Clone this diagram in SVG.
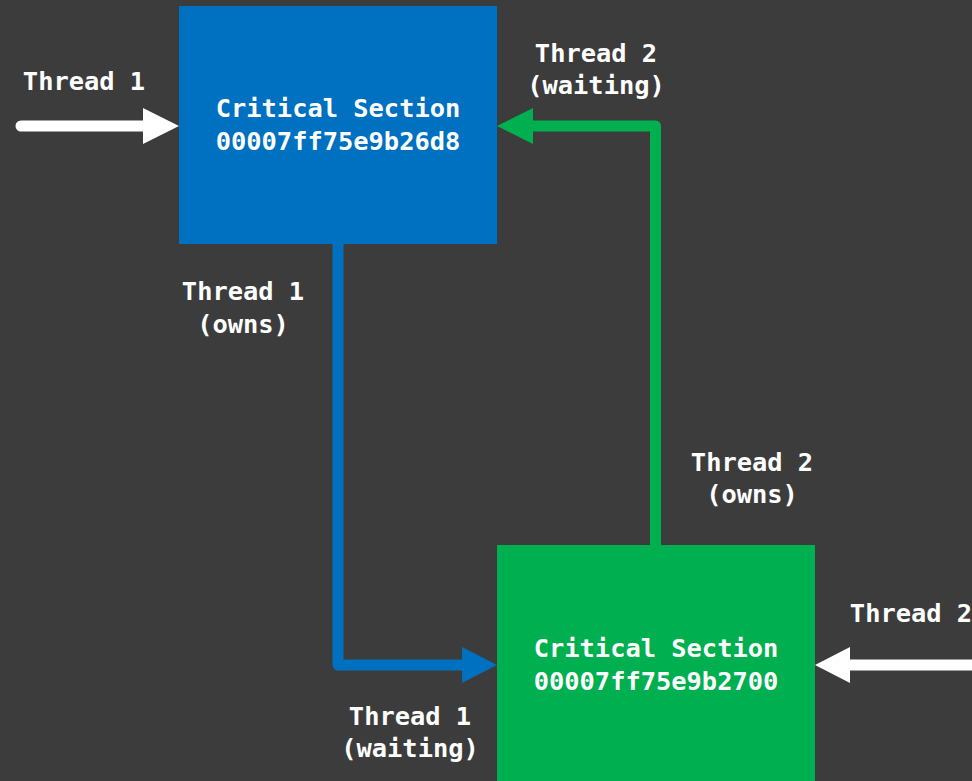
<svg xmlns="http://www.w3.org/2000/svg" width="972" height="781" viewBox="0 0 972 781">
<defs>
<style>
.lbl{font-family:"DejaVu Sans Mono","Liberation Mono",monospace;font-weight:bold;font-size:25.4px;fill:#ffffff;text-anchor:middle}
.conn{fill:none;stroke-width:11;stroke-linejoin:round;stroke-linecap:round}
</style>
</defs>
<rect x="0" y="0" width="972" height="781" fill="#3c3c3c"/>
<g id="cs1">
<rect x="179" y="6" width="318" height="238" fill="#0070c0"/>
<text class="lbl" x="338" y="117">Critical Section</text>
<text class="lbl" x="338" y="150">00007ff75e9b26d8</text>
</g>
<g id="cs2">
<rect x="497" y="545" width="318" height="240" fill="#00b050"/>
<text class="lbl" x="656" y="657">Critical Section</text>
<text class="lbl" x="656" y="690">00007ff75e9b2700</text>
</g>
<g id="connectors">
<path class="conn" stroke="#ffffff" d="M21 126 H148"/>
<polygon points="143,108 179,126 143,144" fill="#ffffff"/>
<path class="conn" stroke="#00b050" stroke-linecap="butt" d="M655.5 545 V126 H528"/>
<polygon points="533,108 497,126 533,144" fill="#00b050"/>
<path class="conn" stroke="#0070c0" stroke-linecap="butt" d="M338 244 V665 H466"/>
<polygon points="462,647 497,665 462,683" fill="#0070c0"/>
<path class="conn" stroke="#ffffff" stroke-linecap="butt" d="M972 665 H845"/>
<polygon points="850,647 815,665 850,683" fill="#ffffff"/>
</g>
<g id="labels">
<text class="lbl" x="84" y="90">Thread 1</text>
<text class="lbl" x="596" y="62">Thread 2</text>
<text class="lbl" x="596" y="94">(waiting)</text>
<text class="lbl" x="243" y="300">Thread 1</text>
<text class="lbl" x="243" y="333">(owns)</text>
<text class="lbl" x="752" y="471">Thread 2</text>
<text class="lbl" x="752" y="503">(owns)</text>
<text class="lbl" x="911" y="622">Thread 2</text>
<text class="lbl" x="410" y="725">Thread 1</text>
<text class="lbl" x="410" y="757">(waiting)</text>
</g>
</svg>
